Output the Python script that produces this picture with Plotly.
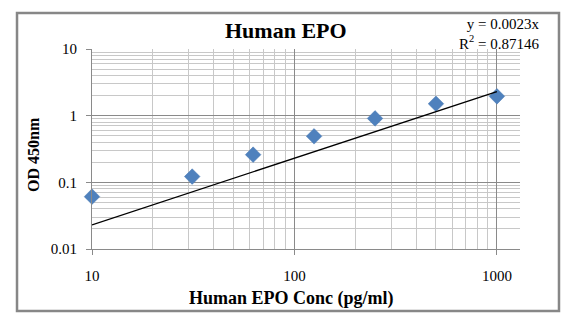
import plotly.graph_objects as go

# Standard curve: concentration (pg/ml) vs optical density at 450 nm
conc = [10, 31.25, 62.5, 125, 250, 500, 1000]
od450 = [0.061, 0.122, 0.26, 0.49, 0.91, 1.51, 1.95]

# Linear trendline through the origin
slope = 0.0023
r_squared = 0.87146
fit_x = [10, 1000]
fit_y = [slope * v for v in fit_x]

x_tickvals = [10, 100, 1000]
x_ticktext = ["10", "100", "1000"]
y_tickvals = [0.01, 0.1, 1, 10]
y_ticktext = ["0.01", "0.1", "1", "10"]

FONT = "Liberation Serif"
MAJOR = "#8a8a8a"
MINOR = "#c8c8c8"

fig = go.Figure()
fig.add_trace(go.Scatter(
    x=conc, y=od450, mode="markers",
    marker=dict(symbol="diamond", size=12, color="#4f81bd",
                line=dict(width=0.5, color="#4a7ab5")),
    showlegend=False, cliponaxis=False,
))
fig.add_trace(go.Scatter(
    x=fit_x, y=fit_y, mode="lines",
    line=dict(color="black", width=1.4),
    showlegend=False,
))

axis_common = dict(
    type="log",
    showline=True, linecolor=MAJOR, linewidth=1,
    showgrid=True, gridcolor=MAJOR, gridwidth=1,
    ticks="outside", ticklen=5, tickcolor=MAJOR, tickwidth=1,
    tickfont=dict(family=FONT, size=15, color="black"),
    zeroline=False,
    minor=dict(dtick="D1", showgrid=True, gridcolor=MINOR, gridwidth=1, ticks=""),
)

fig.update_xaxes(**axis_common, range=[1, 3.114],
                 tickvals=x_tickvals, ticktext=x_ticktext,
                 ticklabelstandoff=8)
fig.update_yaxes(**axis_common, range=[-2, 1],
                 tickvals=y_tickvals, ticktext=y_ticktext,
                 ticklabelstandoff=6)

# Chart frame
fig.add_shape(type="rect", xref="paper", yref="paper",
              x0=-0.1752, x1=1.0911, y0=-0.31, y1=1.18,
              line=dict(color="#878787", width=2.5), layer="below")

fig.add_annotation(text="<b>Human EPO</b>", xref="paper", yref="paper",
                   x=0.453, y=1.09, showarrow=False,
                   font=dict(family=FONT, size=22, color="black"),
                   xanchor="center", yanchor="middle")
fig.add_annotation(text="<b>Human EPO Conc (pg/ml)</b>", xref="paper", yref="paper",
                   x=0.467, y=-0.245, showarrow=False,
                   font=dict(family=FONT, size=18, color="black"),
                   xanchor="center", yanchor="middle")
fig.add_annotation(text="<b>OD 450nm</b>", xref="paper", yref="paper",
                   x=-0.138, y=0.475, showarrow=False, textangle=-90,
                   font=dict(family=FONT, size=16, color="black"),
                   xanchor="center", yanchor="middle")
fig.add_annotation(text=f"y = {slope}x<br>R<sup>2</sup> = {r_squared}",
                   xref="paper", yref="paper",
                   x=1.049, y=1.0775, showarrow=False, align="right",
                   font=dict(family=FONT, size=15, color="black"),
                   xanchor="right", yanchor="middle")

fig.update_layout(
    width=572, height=329,
    margin=dict(l=92, r=52, t=49, b=80),
    paper_bgcolor="white", plot_bgcolor="white",
)

fig.write_html("out.html")
